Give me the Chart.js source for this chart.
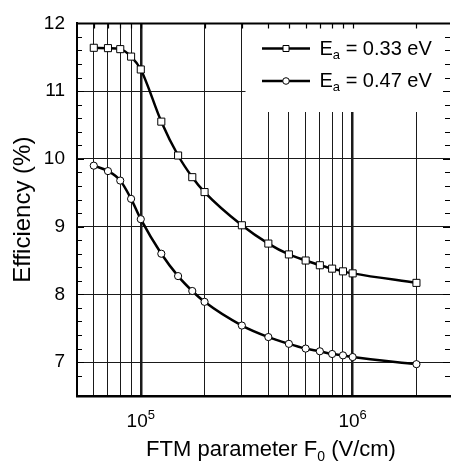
<!DOCTYPE html>
<html>
<head>
<meta charset="utf-8">
<script src="https://cdn.jsdelivr.net/npm/chart.js@4.4.1/dist/chart.umd.min.js"></script>
<style>
  html, body { margin:0; padding:0; background:#fff; }
  #wrap { width:456px; height:466px; position:relative; }
</style>
</head>
<body>
<div id="wrap"><canvas id="chart"></canvas></div>
<script>
// FTM parameter F0 (V/cm) at which efficiency was computed
const fieldValues = [6e4, 7e4, 8e4, 9e4, 1e5, 1.25e5, 1.5e5, 1.75e5, 2e5, 3e5, 4e5, 5e5, 6e5, 7e5, 8e5, 9e5, 1e6, 2e6];
// efficiency (%) for Ea = 0.33 eV
const eff033 = [11.64, 11.635, 11.62, 11.51, 11.32, 10.55, 10.05, 9.73, 9.51, 9.02, 8.75, 8.59, 8.50, 8.43, 8.38, 8.34, 8.31, 8.17];
// efficiency (%) for Ea = 0.47 eV
const eff047 = [9.90, 9.82, 9.68, 9.41, 9.11, 8.60, 8.27, 8.05, 7.89, 7.54, 7.37, 7.27, 7.20, 7.16, 7.12, 7.10, 7.075, 6.97];

const seriesNames = ['0.33 eV', '0.47 eV'];
const xGridTicks = [6e4, 7e4, 8e4, 9e4, 1e5, 2e5, 3e5, 4e5, 5e5, 6e5, 7e5, 8e5, 9e5, 1e6, 2e6];
const xLabelTicks = [1e5, 1e6];   // drawn as 10^exp
const yLabelTicks = [7, 8, 9, 10, 11, 12];

const FONT = "'Liberation Sans', Arial, Helvetica, sans-serif";
const INK = '#000';

const toPts = (ys) => fieldValues.map((x, i) => ({ x, y: ys[i] }));
const isInt = (v) => Math.abs(v - Math.round(v)) < 1e-6;

// white legend box, hides grid lines behind it
const LEG = { x0: 245.5, x1: 451, y0: 18, y1: 112 };

const decor = {
  id: 'decor',
  beforeDatasetsDraw(chart) {
    const ctx = chart.ctx;
    ctx.save();
    ctx.fillStyle = '#fff';
    ctx.fillRect(LEG.x0, LEG.y0, LEG.x1 - LEG.x0, LEG.y1 - LEG.y0);
    ctx.restore();
  },
  afterDraw(chart) {
    const ctx = chart.ctx;
    const a = chart.chartArea;
    const xs = chart.scales.x, ys = chart.scales.y;
    ctx.save();
    ctx.strokeStyle = INK;
    ctx.fillStyle = INK;

    // top border
    ctx.lineWidth = 2;
    ctx.beginPath();
    ctx.moveTo(a.left, a.top); ctx.lineTo(a.right, a.top);
    ctx.stroke();

    // inward ticks: top (x) and left/right (y)
    ctx.lineWidth = 1.2;
    ctx.beginPath();
    xGridTicks.forEach(v => {
      const px = Math.round(xs.getPixelForValue(v)) + 0.5;
      ctx.moveTo(px, a.top); ctx.lineTo(px, a.top + 5);
    });
    ys.ticks.forEach(t => {
      const py = Math.round(ys.getPixelForValue(t.value)) + 0.5;
      const len = isInt(t.value) ? 7 : 5;
      ctx.moveTo(a.left, py); ctx.lineTo(a.left + len, py);
      ctx.moveTo(a.right, py); ctx.lineTo(a.right - len, py);
    });
    ctx.stroke();

    // x tick labels 10^5, 10^6
    ctx.textBaseline = 'alphabetic';
    ctx.textAlign = 'left';
    xLabelTicks.forEach(v => {
      const px = xs.getPixelForValue(v);
      const exp = String(Math.round(Math.log10(v)));
      ctx.font = '19px ' + FONT;
      const wb = ctx.measureText('10').width;
      ctx.font = '13px ' + FONT;
      const we = ctx.measureText(exp).width;
      const x0 = px - (wb + we) / 2;
      ctx.font = '19px ' + FONT;
      ctx.fillText('10', x0, 427);
      ctx.font = '13px ' + FONT;
      ctx.fillText(exp, x0 + wb, 419);
    });

    // x title with subscript
    const p1 = 'FTM parameter F', p2 = '0', p3 = ' (V/cm)';
    ctx.font = '22px ' + FONT;
    const w1 = ctx.measureText(p1).width, w3 = ctx.measureText(p3).width;
    ctx.font = '14px ' + FONT;
    const w2 = ctx.measureText(p2).width;
    let tx = 271 - (w1 + w2 + w3) / 2;
    ctx.font = '22px ' + FONT;
    ctx.fillText(p1, tx, 456);
    ctx.font = '14px ' + FONT;
    ctx.fillText(p2, tx + w1, 461);
    ctx.font = '22px ' + FONT;
    ctx.fillText(p3, tx + w1 + w2, 456);

    // y title
    ctx.save();
    ctx.translate(30, (a.top + a.bottom) / 2);
    ctx.rotate(-Math.PI / 2);
    ctx.textAlign = 'center';
    ctx.font = '24px ' + FONT;
    ctx.fillText('Efficiency (%)', 0, 0);
    ctx.restore();

    // legend
    const rows = [{ y: 48.5, style: 'rect' }, { y: 81, style: 'circle' }];
    rows.forEach((r, i) => {
      ctx.lineWidth = 2.5;
      ctx.strokeStyle = INK;
      ctx.beginPath();
      ctx.moveTo(262, r.y); ctx.lineTo(310, r.y);
      ctx.stroke();
      ctx.lineWidth = 1;
      ctx.fillStyle = '#fff';
      ctx.beginPath();
      if (r.style === 'rect') ctx.rect(283, r.y - 3, 6, 6);
      else ctx.arc(286, r.y, 3.3, 0, Math.PI * 2);
      ctx.fill(); ctx.stroke();
      ctx.fillStyle = INK;
      const base = r.y + 6;
      ctx.font = '20px ' + FONT;
      ctx.fillText('E', 319.5, base);
      const we = ctx.measureText('E').width;
      ctx.font = '13px ' + FONT;
      ctx.fillText('a', 319.5 + we, base + 4);
      const wa = ctx.measureText('a').width;
      ctx.font = '20px ' + FONT;
      ctx.fillText(' = ' + seriesNames[i], 319.5 + we + wa, base);
    });
    ctx.restore();
  }
};

const lineStyle = {
  borderColor: INK,
  borderWidth: 2.5,
  pointBackgroundColor: '#fff',
  pointBorderColor: INK,
  pointBorderWidth: 1,
  cubicInterpolationMode: 'monotone',
  fill: false,
};

new Chart(document.getElementById('chart'), {
  type: 'line',
  data: {
    datasets: [
      { ...lineStyle, label: seriesNames[0], data: toPts(eff033), pointStyle: 'rect', pointRadius: 5 },
      { ...lineStyle, label: seriesNames[1], data: toPts(eff047), pointStyle: 'circle', pointRadius: 3.6 },
    ],
  },
  options: {
    responsive: true,
    maintainAspectRatio: false,
    animation: false,
    layout: { padding: { top: 15, right: 0, left: 0, bottom: 0 } },
    plugins: { legend: { display: false }, tooltip: { enabled: false } },
    scales: {
      x: {
        type: 'logarithmic',
        min: 5e4,
        max: 2.88e6,
        afterBuildTicks: (s) => { s.ticks = xGridTicks.map(v => ({ value: v })); },
        afterFit: (s) => { s.height = 70; },
        ticks: { display: false },
        grid: {
          drawTicks: false,
          color: '#1a1a1a',
          lineWidth: (c) => (c.tick && (c.tick.value === 1e5 || c.tick.value === 1e6)) ? 2.5 : 1,
        },
        border: { display: true, color: INK, width: 2.5 },
      },
      y: {
        min: 6.5,
        max: 12,
        afterFit: (s) => { s.width = 77; },
        ticks: {
          stepSize: 0.2,
          autoSkip: false,
          padding: 12,
          color: INK,
          font: { family: FONT, size: 19 },
          callback: (v) => (isInt(v) && yLabelTicks.includes(Math.round(v))) ? String(Math.round(v)) : '',
        },
        grid: {
          drawTicks: false,
          color: (c) => (c.tick && isInt(c.tick.value) && c.tick.value < 11.99 && c.tick.value > 6.6) ? '#1a1a1a' : 'rgba(0,0,0,0)',
          lineWidth: 1,
        },
        border: { display: true, color: INK, width: 2 },
      },
    },
  },
  plugins: [decor],
});
</script>
</body>
</html>
